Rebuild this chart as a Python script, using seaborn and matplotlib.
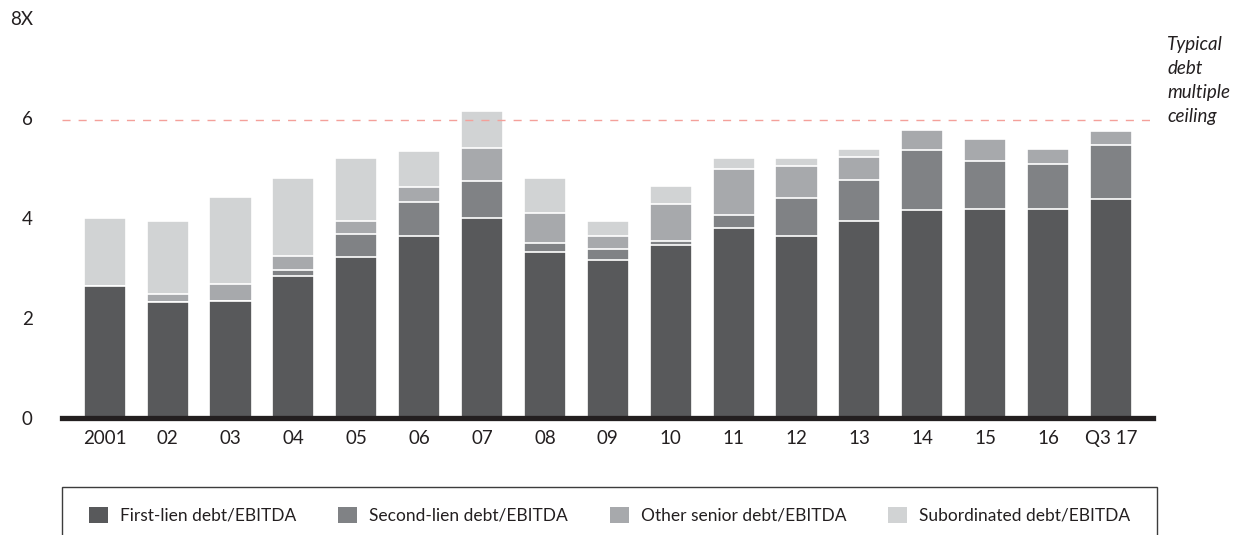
import numpy as np
import pandas as pd
import matplotlib
matplotlib.use("Agg")
import matplotlib.pyplot as plt
import seaborn as sns
from matplotlib.patches import Patch, Rectangle

# Data (debt multiples, x EBITDA)
years = ['2001', '02', '03', '04', '05', '06', '07', '08', '09',
         '10', '11', '12', '13', '14', '15', '16', 'Q3 17']
first_lien = [2.63, 2.31, 2.33, 2.84, 3.21, 3.64, 3.99, 3.32, 3.15,
              3.45, 3.80, 3.64, 3.93, 4.15, 4.17, 4.17, 4.38]
second_lien = [0.00, 0.00, 0.00, 0.11, 0.46, 0.67, 0.75, 0.18, 0.22,
               0.08, 0.26, 0.75, 0.83, 1.20, 0.97, 0.91, 1.08]
other_senior = [0.00, 0.16, 0.35, 0.29, 0.27, 0.30, 0.65, 0.59, 0.27,
                0.75, 0.92, 0.64, 0.46, 0.40, 0.44, 0.29, 0.28]
subordinated = [1.36, 1.46, 1.74, 1.55, 1.25, 0.72, 0.75, 0.70, 0.29,
                0.35, 0.21, 0.16, 0.15, 0.00, 0.00, 0.00, 0.00]
ceiling = 5.95

series_names = ['First-lien debt/EBITDA', 'Second-lien debt/EBITDA',
                'Other senior debt/EBITDA', 'Subordinated debt/EBITDA']
colors = ['#58595b', '#808285', '#a7a9ac', '#d1d3d4']

df = pd.DataFrame({'year': years,
                   series_names[0]: first_lien,
                   series_names[1]: second_lien,
                   series_names[2]: other_senior,
                   series_names[3]: subordinated})
# cumulative tops for stacking
cum = df[series_names].cumsum(axis=1)

sns.set_style('white')
plt.rcParams['font.family'] = ['Lato', 'DejaVu Sans']

fig = plt.figure(figsize=(12.39, 5.35), dpi=100)
ax = fig.add_axes([0.050, 0.2187, 0.8806, 0.7477])

# draw tallest layer first so lower layers sit on top
for name, c in reversed(list(zip(series_names, colors))):
    sns.barplot(x=df['year'], y=cum[name], color=c, saturation=1,
                width=0.67, edgecolor='white', linewidth=1.2, ax=ax)

ax.axhline(ceiling, color='#f4a09a', lw=1.0, ls=(0, (5.8, 5.8)), zorder=5)

ax.set_xlim(-0.68, 16.67)
ax.set_ylim(0, 8)
ax.set_yticks([0, 2, 4, 6, 8])
ax.set_yticklabels(['0', '2', '4', '6', '8X'])
ax.set_xlabel('')
ax.set_ylabel('')
ax.tick_params(axis='both', length=0, labelsize=13.5, colors='#231f20')
ax.tick_params(axis='y', pad=21)
ax.tick_params(axis='x', pad=9)
for s in ['top', 'right', 'left']:
    ax.spines[s].set_visible(False)
ax.spines['bottom'].set_color('#231f20')
ax.spines['bottom'].set_linewidth(3.8)

fig.text(0.942, 0.932, 'Typical\ndebt\nmultiple\nceiling', style='italic',
         fontsize=13.5, color='#231f20', va='top', ha='left', linespacing=1.5)

# legend box
fig.patches.append(Rectangle((0.050, -0.05), 0.884, 0.1397,
                             transform=fig.transFigure, fill=False,
                             edgecolor='#3c3c3c', linewidth=1.0))
handles = [Patch(facecolor=c, edgecolor='none') for c in colors]
fig.legend(handles, series_names, loc='center', bbox_to_anchor=(0.492, 0.037),
           ncol=4, frameon=False, fontsize=12.5, handlelength=1.1,
           handleheight=1.1, handletextpad=0.7, columnspacing=2.4,
           labelcolor='#231f20')

fig.savefig('out.png', dpi=100)
